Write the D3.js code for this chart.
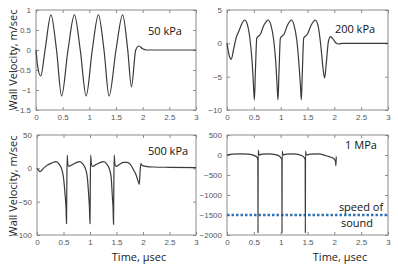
<!DOCTYPE html>
<html>
<head>
<meta charset="utf-8">
<script src="https://cdn.jsdelivr.net/npm/d3@7"></script>
<style>
  body { margin: 0; background: #fff; }
  svg { display: block; }
</style>
</head>
<body>
<div class="charts-div"></div>
<script>
// ---- data (time in µsec, wall velocity in m/sec) ----
const timeTicks = [0, 0.5, 1, 1.5, 2, 2.5, 3];

const t50kPa = [0, 0.03, 0.088, 0.17, 0.28, 0.385, 0.48, 0.6, 0.72, 0.83, 0.94, 1.055, 1.17, 1.275, 1.37, 1.5, 1.625, 1.72, 1.79, 1.87, 1.93, 2.0, 2.07, 3];
const v50kPa = [0, -0.4, -0.65, 0, 0.88, 0, -1.15, 0, 0.88, 0, -1.15, 0, 0.88, 0, -1.15, 0, 0.88, 0, -0.92, 0, 0.1, 0.03, 0, 0];
const ticks50kPa = [1, 0.5, 0, -0.5, -1, -1.5];

const t200kPa = [0, 0.04, 0.08, 0.12, 0.17, 0.22, 0.28, 0.33, 0.38, 0.43, 0.47, 0.495, 0.51, 0.53, 0.555, 0.59, 0.625, 0.68, 0.735, 0.765, 0.82, 0.87, 0.91, 0.935, 0.95, 0.97, 0.995, 1.03, 1.065, 1.12, 1.17, 1.2, 1.25, 1.3, 1.34, 1.37, 1.385, 1.405, 1.43, 1.465, 1.5, 1.56, 1.615, 1.645, 1.7, 1.75, 1.79, 1.82, 1.85, 1.89, 1.93, 1.98, 2.03, 2.08, 2.15, 3];
const v200kPa = [0, -1.8, -2.4, -1, 0.8, 1.8, 3, 3.5, 2.8, 0.5, -3, -6.5, -8.5, -4, 0.8, 1.1, 1.4, 2.6, 3.3, 3.5, 2.7, 0.5, -3, -6.5, -8.5, -4, 0.8, 1.1, 1.4, 2.6, 3.3, 3.5, 2.7, 0.5, -3, -6.5, -8.5, -4, 0.8, 1.1, 1.4, 2.6, 3.3, 3.5, 2.5, -0.5, -3.8, -5.2, -3, 0.3, 1.0, 0.6, 0.05, -0.1, 0, 0];
const ticks200kPa = [5, 0, -5, -10];

const t500kPa = [0, 0.03, 0.056, 0.12, 0.2, 0.28, 0.356, 0.42, 0.47, 0.5, 0.53, 0.548, 0.557, 0.563, 0.57, 0.58, 0.6, 0.68, 0.75, 0.806, 0.87, 0.92, 0.95, 0.975, 0.99, 1.0, 1.006, 1.013, 1.023, 1.045, 1.12, 1.2, 1.26, 1.32, 1.37, 1.4, 1.42, 1.435, 1.444, 1.45, 1.457, 1.467, 1.49, 1.56, 1.63, 1.7, 1.76, 1.82, 1.87, 1.91, 1.93, 1.945, 1.96, 1.99, 2.05, 2.2, 2.5, 3];
const v500kPa = [0, -3, -5, 0, 5, 8, 10, 6, -2, -14, -40, -60, -83, -20, 20, 8, 3, 6, 9, 10, 6, -2, -14, -40, -60, -83, -20, 20, 8, 3, 6, 9, 10, 6, -2, -14, -40, -60, -84, -20, 20, 8, 3, 6, 9, 9, 6, -2, -10, -20, -24, -5, 7, 4, 3, 2, 1.5, 1];
const ticks500kPa = [50, 0, -50, -100];

const t1MPa = [0, 0.1, 0.25, 0.4, 0.5, 0.56, 0.575, 0.578, 0.581, 0.6, 0.65, 0.8, 0.95, 1.01, 1.022, 1.025, 1.028, 1.045, 1.1, 1.25, 1.4, 1.45, 1.457, 1.46, 1.463, 1.48, 1.55, 1.7, 1.85, 1.98, 2.02, 2.03, 2.036];
const v1MPa = [0, 20, 30, 20, -10, -60, -120, -1950, 120, 0, 20, 30, -10, -80, -120, -1950, 100, 0, 20, 30, -20, -90, -130, -1950, 100, 0, 20, 30, -20, -80, -150, -270, -40];
const ticks1MPa = [500, 0, -500, -1000, -1500, -2000];
const speedOfSound = -1500;

const panels = [
    { t: t50kPa, v: v50kPa, yTicks: ticks50kPa, box: [36, 196, 10, 110], label: "50 kPa", lx: 165, ly: 35 },
    { t: t200kPa, v: v200kPa, yTicks: ticks200kPa, box: [227, 388, 10, 110], label: "200 kPa", lx: 355, ly: 33 },
    { t: t500kPa, v: v500kPa, yTicks: ticks500kPa, box: [37, 196, 135, 235], label: "500 kPa", lx: 168, ly: 155 },
    { t: t1MPa, v: v1MPa, yTicks: ticks1MPa, box: [227, 388, 135, 235], label: "1 MPa", lx: 361, ly: 149 }
];

const W = 398, H = 269;
const tickFont = "'Liberation Sans', Arial, sans-serif";
const labelFont = "'Open Sans', 'Noto Sans', sans-serif";

const svg = d3.select(".charts-div").append("svg").attr("width", W).attr("height", H);

panels.forEach((p, idx) => {
    const [x0, x1, y0, y1] = p.box;
    const yDom = d3.extent(p.yTicks);

    const x = d3.scaleLinear().domain([0, 3]).range([x0, x1]);
    const y = d3.scaleLinear().domain(yDom).range([y1, y0]);

    const g = svg.append("g").attr("class", "panel");

    const styleAxis = (sel) => {
        sel.select(".domain").remove();
        sel.selectAll(".tick line").attr("stroke", "#8a8a8a");
        sel.selectAll(".tick text").attr("fill", "#555").attr("font-family", tickFont).attr("font-size", 8);
    };

    // inward ticks on all sides, MATLAB style
    g.append("g").attr("transform", `translate(0,${y1})`)
        .call(d3.axisBottom(x).tickValues(timeTicks).tickSizeInner(-3).tickPadding(4).tickFormat(d3.format("~g")))
        .call(styleAxis);
    g.append("g").attr("transform", `translate(0,${y0})`)
        .call(d3.axisTop(x).tickValues(timeTicks).tickSizeInner(-3).tickFormat(""))
        .call(styleAxis);
    g.append("g").attr("transform", `translate(${x0},0)`)
        .call(d3.axisLeft(y).tickValues(p.yTicks).tickSizeInner(-3).tickPadding(5).tickFormat(d3.format("~g")))
        .call(styleAxis);
    g.append("g").attr("transform", `translate(${x1},0)`)
        .call(d3.axisRight(y).tickValues(p.yTicks).tickSizeInner(-3).tickFormat(""))
        .call(styleAxis);

    g.append("rect")
        .attr("x", x0).attr("y", y0)
        .attr("width", x1 - x0).attr("height", y1 - y0)
        .attr("fill", "none").attr("stroke", "#8a8a8a").attr("stroke-width", 1);

    if (idx === 3) {
        g.append("line")
            .attr("x1", x(0)).attr("x2", x(3))
            .attr("y1", y(speedOfSound)).attr("y2", y(speedOfSound))
            .attr("stroke", "#2e75b6").attr("stroke-width", 2.5)
            .attr("stroke-dasharray", "2.5,2");
    }

    const line = d3.line()
        .x((d, i) => x(p.t[i]))
        .y((d) => y(d))
        .curve(d3.curveMonotoneX);

    g.append("path")
        .datum(p.v)
        .attr("d", line)
        .attr("fill", "none")
        .attr("stroke", "#3a3a3a")
        .attr("stroke-width", 1.2);

    g.append("text")
        .attr("x", p.lx).attr("y", p.ly)
        .attr("text-anchor", "middle")
        .attr("font-family", labelFont).attr("font-size", 11)
        .attr("fill", "#111")
        .text(p.label);

    if (idx === 3) {
        g.append("text").attr("x", 361).attr("y", 211)
            .attr("text-anchor", "middle").attr("font-family", labelFont).attr("font-size", 11)
            .attr("fill", "#111").text("speed of");
        g.append("text").attr("x", 357).attr("y", 227)
            .attr("text-anchor", "middle").attr("font-family", labelFont).attr("font-size", 11)
            .attr("fill", "#111").text("sound");
    }
});

// shared axis titles
[60, 186].forEach((cy) => {
    svg.append("text")
        .attr("transform", `translate(17,${cy}) rotate(-90)`)
        .attr("text-anchor", "middle")
        .attr("font-family", labelFont).attr("font-size", 11)
        .attr("fill", "#222")
        .text("Wall Velocity, m/sec");
});
[139, 340].forEach((cx) => {
    svg.append("text")
        .attr("x", cx).attr("y", 261)
        .attr("text-anchor", "middle")
        .attr("font-family", labelFont).attr("font-size", 11)
        .attr("fill", "#222")
        .text("Time, µsec");
});
</script>
</body>
</html>
